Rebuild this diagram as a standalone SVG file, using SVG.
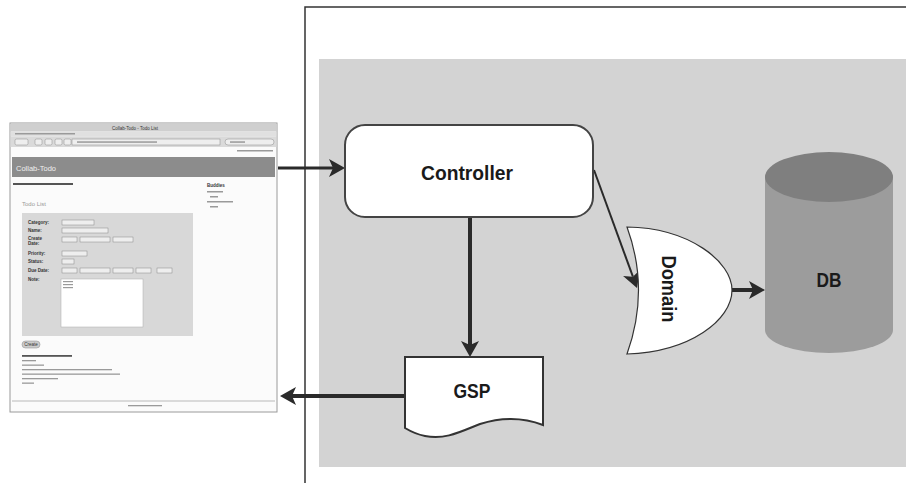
<svg xmlns="http://www.w3.org/2000/svg" width="906" height="483" viewBox="0 0 906 483">
<defs>
<style>
.lbl{font-family:"Liberation Sans Narrow","Liberation Sans",Arial,sans-serif;font-size:21px;font-weight:bold;fill:#1a1a1a;text-anchor:middle}
.tiny{font-family:"Liberation Sans",Arial,sans-serif;font-size:4.5px;fill:#333}
.tb{font-family:"Liberation Sans",Arial,sans-serif;font-size:4.5px;fill:#333;font-weight:bold}
.bar{fill:#9a9a9a}
.fld{fill:#eeeeee;stroke:#888;stroke-width:0.5}
.conn{stroke:#2a2a2a;fill:none}
</style>
<marker id="ah" viewBox="0 0 16 18" refX="4" refY="9" markerWidth="16" markerHeight="18" markerUnits="userSpaceOnUse" orient="auto">
<path d="M0,0 L16,9 L0,18 L4,9 Z" fill="#2a2a2a"/>
</marker>
</defs>
<rect width="906" height="483" fill="#ffffff"/>

<!-- frame -->
<g id="frame">
<path d="M305,483 L305,7 L906,7" fill="none" stroke="#333" stroke-width="1.5"/>
<rect x="319" y="59" width="587" height="408" fill="#d3d3d3"/>
</g>

<!-- browser screenshot -->
<g id="browser">
<rect x="10" y="123" width="267" height="289" fill="#fbfbfb" stroke="#9a9a9a" stroke-width="1"/>
<rect x="10.5" y="123.5" width="266" height="8" fill="#cfcfcf"/>
<text class="tiny" x="135" y="129.5" text-anchor="middle">Collab-Todo - Todo List</text>
<rect x="10.5" y="131.5" width="266" height="5" fill="#e0e0e0"/>
<rect x="15" y="133" width="60" height="1.5" class="bar"/>
<rect x="10.5" y="136.5" width="266" height="10.5" fill="#dadada"/>
<rect x="15" y="139" width="13" height="6" rx="1.5" class="fld"/>
<rect x="35" y="139" width="7" height="6" rx="1.5" class="fld"/>
<rect x="45" y="139" width="7" height="6" rx="1.5" class="fld"/>
<rect x="55" y="139" width="7" height="6" rx="1.5" class="fld"/>
<rect x="64" y="139" width="7" height="6" rx="1.5" class="fld"/>
<rect x="72" y="139" width="148" height="6" class="fld"/>
<rect x="77" y="141.3" width="80" height="1.5" class="bar"/>
<rect x="225" y="139" width="49" height="6" rx="3" class="fld"/>
<rect x="230" y="141.3" width="15" height="1.5" class="bar"/>
<rect x="237" y="150" width="36" height="1.5" class="bar"/>
<rect x="12" y="157" width="263" height="20" fill="#8c8c8c"/>
<text x="16" y="171" font-family="Liberation Sans,Arial,sans-serif" font-size="7.5" fill="#f0f0f0">Collab-Todo</text>
<rect x="13" y="183" width="60" height="2" fill="#555"/>
<text class="tb" x="207" y="187" font-size="6">Buddies</text>
<rect x="207" y="191" width="16" height="1.5" class="bar"/>
<rect x="210" y="196" width="8" height="1.5" class="bar"/>
<rect x="207" y="201" width="26" height="1.5" class="bar"/>
<rect x="210" y="206" width="8" height="1.5" class="bar"/>
<text x="22" y="206" font-family="Liberation Sans,Arial,sans-serif" font-size="6" fill="#999">Todo List</text>
<rect x="22" y="213" width="171" height="123" fill="#d8d8d8"/>
<text class="tb" x="28" y="224">Category:</text>
<text class="tb" x="28" y="231.5">Name:</text>
<text class="tb" x="28" y="240">Create</text>
<text class="tb" x="28" y="245">Date:</text>
<text class="tb" x="28" y="255">Priority:</text>
<text class="tb" x="28" y="262.5">Status:</text>
<text class="tb" x="28" y="272">Due Date:</text>
<text class="tb" x="28" y="280.5">Note:</text>
<rect x="62" y="220" width="32" height="5" class="fld"/>
<rect x="62" y="228" width="46" height="5" class="fld"/>
<rect x="62" y="237" width="15" height="5" class="fld"/>
<rect x="80" y="237" width="30" height="5" class="fld"/>
<rect x="113" y="237" width="20" height="5" class="fld"/>
<rect x="62" y="251" width="25" height="5" class="fld"/>
<rect x="62" y="259" width="12" height="5" class="fld"/>
<rect x="62" y="268" width="15" height="5" class="fld"/>
<rect x="80" y="268" width="30" height="5" class="fld"/>
<rect x="113" y="268" width="20" height="5" class="fld"/>
<rect x="136" y="268" width="15" height="5" class="fld"/>
<rect x="157" y="268" width="15" height="5" class="fld"/>
<rect x="61" y="279" width="82" height="48" fill="#ffffff" stroke="#aaa" stroke-width="0.5"/>
<rect x="63" y="281" width="10" height="1.2" class="bar"/>
<rect x="63" y="284" width="10" height="1.2" class="bar"/>
<rect x="63" y="287" width="10" height="1.2" class="bar"/>
<rect x="22" y="341" width="18" height="7" rx="3.5" fill="#ccc" stroke="#888" stroke-width="0.5"/>
<text class="tiny" x="31" y="346" text-anchor="middle" font-size="4">Create</text>
<rect x="22" y="355" width="50" height="1.8" fill="#555"/>
<rect x="22" y="360" width="14" height="1.3" class="bar"/>
<rect x="22" y="364.5" width="22" height="1.3" class="bar"/>
<rect x="22" y="369" width="90" height="1.3" class="bar"/>
<rect x="22" y="373.5" width="98" height="1.3" class="bar"/>
<rect x="22" y="378" width="36" height="1.3" class="bar"/>
<rect x="22" y="382.5" width="12" height="1.3" class="bar"/>
<line x1="12" y1="401" x2="275" y2="401" stroke="#aaa" stroke-width="0.8"/>
<rect x="128" y="405" width="34" height="1.3" class="bar"/>
</g>

<!-- connectors -->
<g id="connectors" class="conn">
<line x1="278" y1="168" x2="333" y2="168" stroke-width="3" marker-end="url(#ah)"/>
<line x1="470" y1="217" x2="470" y2="345" stroke-width="4" marker-end="url(#ah)"/>
<line x1="405" y1="396" x2="292" y2="396" stroke-width="4" marker-end="url(#ah)"/>
<line x1="594" y1="170" x2="632.9" y2="276.7" stroke-width="2" marker-end="url(#ah)"/>
<line x1="732" y1="290" x2="753" y2="290" stroke-width="4" marker-end="url(#ah)"/>
</g>

<g id="controller">
<rect x="345" y="125" width="248" height="92" rx="20" ry="20" fill="#ffffff" stroke="#444" stroke-width="2"/>
<text class="lbl" x="467" y="180" font-size="25" textLength="92" lengthAdjust="spacingAndGlyphs">Controller</text>
</g>

<g id="gsp">
<path d="M405,357 L543,357 L543,425 C525,418 505,416 480,424 C460,432 445,440 425,436 C415,434 410,431 405,428 Z" fill="#ffffff" stroke="#333" stroke-width="2"/>
<text class="lbl" x="472" y="398" font-size="23" textLength="37" lengthAdjust="spacingAndGlyphs">GSP</text>
</g>

<g id="domain">
<path d="M627,227 C690,228 732,262 732,290 C732,320 690,352 627,354 Q650,290 627,227 Z" fill="#ffffff" stroke="#333" stroke-width="1.2"/>
<text class="lbl" x="0" y="0" transform="translate(662,289) rotate(90)" textLength="67" lengthAdjust="spacingAndGlyphs">Domain</text>
</g>

<g id="db">
<path d="M765,177 L765,330 A64,23 0 0 0 893,330 L893,177 Z" fill="#9c9c9c"/>
<ellipse cx="829" cy="177" rx="64" ry="25" fill="#7f7f7f"/>
<text class="lbl" x="829" y="287" textLength="25" lengthAdjust="spacingAndGlyphs">DB</text>
</g>
</svg>
